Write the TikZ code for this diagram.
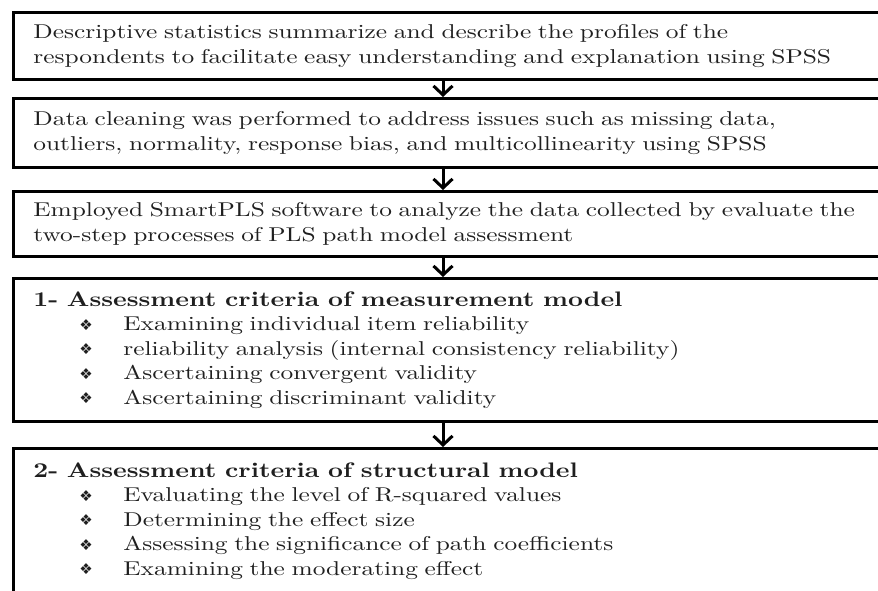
\documentclass[tikz,border=0pt]{standalone}
\usepackage{graphicx}
\usepackage{fontspec}
\setmainfont{lmroman10-regular.otf}[FakeStretch=1.27]
\newfontfamily\headfont{lmroman10-bold.otf}
\newfontfamily\symfont{DejaVu Sans}
\usetikzlibrary{arrows.meta}
\newcommand\bulletline[1]{\hspace*{46pt}\makebox[44pt][l]{\raisebox{0.5pt}{\symfont\fontsize{15}{15}\selectfont ❖}}#1}
\newcommand\headline[1]{\scalebox{1.30}[1.05]{\headfont\fontsize{20}{24.5}\selectfont #1}}
\begin{document}
\begin{tikzpicture}[x=1pt,y=-1pt,
  box/.style={draw=black, line width=2.8pt, rectangle, anchor=north west,
    minimum width=890pt, text width=850pt, inner xsep=20pt, inner ysep=0pt,
    align=left, font=\fontsize{20}{24.5}\selectfont, text=black!88},
  arr/.style={line width=3pt, line join=round, -{Straight Barb[length=9pt,width=19pt]}}]
\useasboundingbox (0,0) rectangle (878,590);
\clip (0,0) rectangle (878,590);
\coordinate (ax) at (443,0);
\node[box, minimum height=67pt] (b1) at (12,11)
  {Descriptive statistics summarize and describe the profiles of the\\
   respondents to facilitate easy understanding and explanation using SPSS};
\node[box, minimum height=69pt] (b2) at (12,97)
  {Data cleaning was performed to address issues such as missing data,\\
   outliers, normality, response bias, and multicollinearity using SPSS};
\node[box, minimum height=65pt] (b3) at (12,190)
  {Employed SmartPLS software to analyze the data collected by evaluate the\\
   two-step processes of PLS path model assessment};
\node[box, minimum height=143pt] (b4) at (12,277)
  {\headline{1- Assessment criteria of measurement model}\\
   \bulletline{Examining individual item reliability}\\
   \bulletline{reliability analysis (internal consistency reliability)}\\
   \bulletline{Ascertaining convergent validity}\\
   \bulletline{Ascertaining discriminant validity}};
\node[box, minimum height=145pt] (b5) at (12,447)
  {\headline{2- Assessment criteria of structural model}\\
   \bulletline{Evaluating the level of R-squared values}\\
   \bulletline{Determining the effect size}\\
   \bulletline{Assessing the significance of path coefficients}\\
   \bulletline{Examining the moderating effect}};
\draw[arr] (b1.south -| ax) -- (b2.north -| ax);
\draw[arr] (b2.south -| ax) -- (b3.north -| ax);
\draw[arr] (b3.south -| ax) -- (b4.north -| ax);
\draw[arr] (b4.south -| ax) -- (b5.north -| ax);
\end{tikzpicture}
\end{document}
